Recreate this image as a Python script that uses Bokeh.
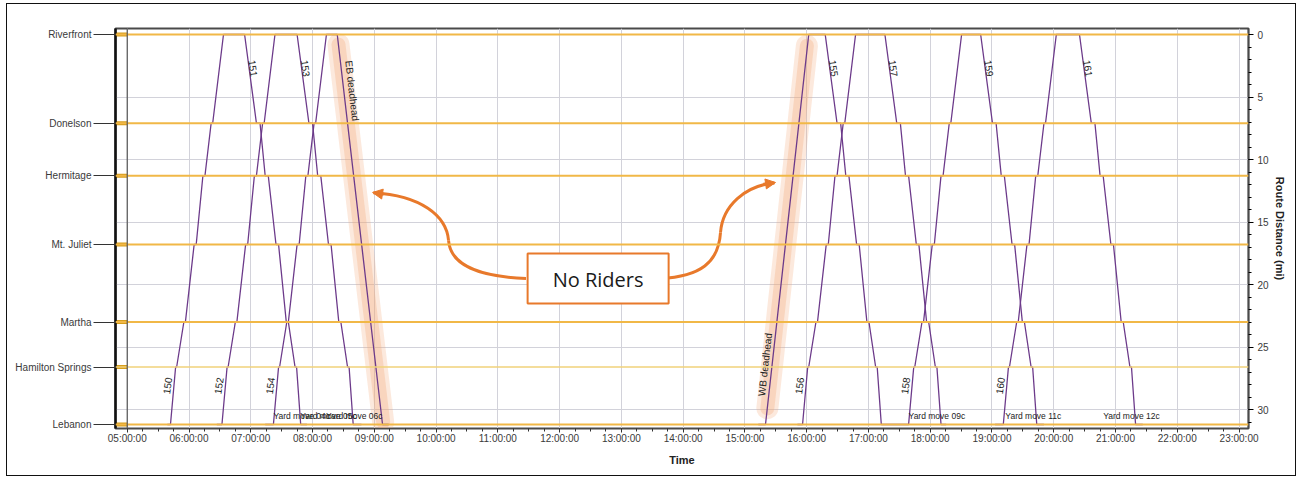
from bokeh.plotting import figure
from bokeh.models import (Range1d, LinearAxis, FixedTicker, CustomJSTickFormatter,
                          Arrow, NormalHead, Span)
from bokeh.core.properties import value
from bokeh.embed import file_html
from bokeh.resources import INLINE

# ---------------- data ----------------
stations = ["Riverfront", "Donelson", "Hermitage", "Mt. Juliet", "Martha", "Hamilton Springs", "Lebanon"]
station_mi = [0.0, 7.1, 11.3, 16.8, 23.0, 26.6, 31.2]

# running-time profile (minutes after origin departure): arrive / depart at each station
# eastbound: Riverfront -> Lebanon (station order above)
eb_arr = [0, 11.5, 20.0, 30.5, 40.5, 49.0, 54.5]
eb_dep = [0, 15.0, 23.0, 33.0, 42.5, 50.5, 54.5]
# westbound: Lebanon -> Riverfront (reverse station order)
wb_arr = [0, 5.0, 13.0, 23.0, 31.5, 39.5, 51.5]
wb_dep = [0, 6.0, 14.5, 25.0, 33.5, 41.0, 51.5]

trip_ids = ["150", "151", "152", "153", "154", "EB deadhead",
            "WB deadhead", "155", "156", "157", "158", "159", "160", "161"]
trip_dir = ["W", "E", "W", "E", "W", "E", "W", "E", "W", "E", "W", "E", "W", "E"]
trip_dep = ["05:42", "06:54", "06:32", "07:45", "07:22", "08:24",
            "15:20", "16:18", "15:56", "17:16", "17:39", "18:49", "19:11", "20:25"]
trip_nonstop_run = {"EB deadhead": 44, "WB deadhead": 42}

# equipment cycles (trips run by the same train set) and terminal holds (min)
blocks = [["150", "151"], ["152", "153"], ["154", "EB deadhead"],
          ["WB deadhead", "155", "158", "159"], ["156", "157"], ["160", "161"]]
block_hold_before = [3, 5, 8, 7, 5, 8]
block_hold_after = [6, 8, 6, 7, 5, 7]

yard_text = ["Yard move 04c", "Yard move 05c", "Yard move 06c",
             "Yard move 09c", "Yard move 11c", "Yard move 12c"]
yard_time = ["07:22", "07:48", "08:13", "17:39", "19:13", "20:48"]

hours = list(range(5, 24))
dist_ticks = [0, 5, 10, 15, 20, 25, 30]


def hrs(s):
    h, m = s.split(":")
    return int(h) + int(m) / 60.0


def trip_points(tid):
    i = trip_ids.index(tid)
    t0 = hrs(trip_dep[i])
    d = trip_dir[i]
    if tid in trip_nonstop_run:
        run = trip_nonstop_run[tid] / 60.0
        if d == "E":
            return [(t0, station_mi[0]), (t0 + run, station_mi[-1])]
        return [(t0, station_mi[-1]), (t0 + run, station_mi[0])]
    pts = []
    if d == "E":
        for k, mi in enumerate(station_mi):
            pts.append((t0 + eb_arr[k] / 60.0, mi))
            pts.append((t0 + eb_dep[k] / 60.0, mi))
    else:
        for k, mi in enumerate(station_mi[::-1]):
            pts.append((t0 + wb_arr[k] / 60.0, mi))
            pts.append((t0 + wb_dep[k] / 60.0, mi))
    return pts


xs, ys = [], []
for b, pre, post in zip(blocks, block_hold_before, block_hold_after):
    pts = []
    for tid in b:
        pts += trip_points(tid)
    pts = [(pts[0][0] - pre / 60.0, pts[0][1])] + pts + [(pts[-1][0] + post / 60.0, pts[-1][1])]
    xs.append([p[0] for p in pts])
    ys.append([p[1] for p in pts])

# ---------------- figure ----------------
p = figure(width=1290, height=473, output_backend="svg", toolbar_location=None,
           x_range=Range1d(4.81, 23.153), y_range=Range1d(31.52, -0.48),
           min_border_left=108, min_border_right=49, min_border_top=24, min_border_bottom=49)
p.styles = {"border": "1px solid #111", "margin-left": "6px", "margin-top": "3px"}
p.background_fill_color = "white"
p.border_fill_color = "white"
p.outline_line_color = "#4a4a4a"
p.outline_line_width = 2

FONT = "Liberation Sans"

# x axis (time)
xa = p.xaxis[0]
xa.ticker = FixedTicker(ticks=hours, minor_ticks=[5 + k * 0.25 for k in range(0, 73)])
xa.formatter = CustomJSTickFormatter(code="""
    const h = Math.round(tick);
    return (h < 10 ? "0" : "") + h + ":00:00";""")
xa.axis_label = "Time"
xa.axis_label_text_font = FONT
xa.axis_label_text_font_style = "bold"
xa.axis_label_text_font_size = "11px"
xa.axis_label_text_color = "#222"
xa.axis_label_standoff = 7
xa.major_label_text_font = FONT
xa.major_label_text_font_size = "10px"
xa.major_label_text_color = "#3a3a3a"
xa.major_label_standoff = 0
xa.major_tick_in = 0
xa.major_tick_out = 4
xa.minor_tick_in = 0
xa.minor_tick_out = 3
xa.axis_line_color = "#4a4a4a"
xa.major_tick_line_color = "#333"
xa.minor_tick_line_color = "#333"

# left axis (stations)
ya = p.yaxis[0]
ya.ticker = FixedTicker(ticks=station_mi, minor_ticks=[])
ya.formatter = CustomJSTickFormatter(args=dict(names=stations, vals=station_mi), code="""
    for (let i = 0; i < vals.length; i++) {
        if (Math.abs(vals[i] - tick) < 1e-6) return names[i];
    }
    return "";""")
ya.major_label_text_font = FONT
ya.major_label_text_font_size = "10px"
ya.major_label_text_color = "#3a3a3a"
ya.major_tick_in = 0
ya.major_tick_out = 22
ya.major_label_standoff = 2
ya.minor_tick_out = 0
ya.axis_line_color = "#111"
ya.axis_line_width = 2.5
ya.major_tick_line_color = "#333"

# right axis (route distance)
ra = LinearAxis(ticker=FixedTicker(ticks=dist_ticks, minor_ticks=list(range(0, 32))),
                axis_label="Route Distance (mi)")
ra.axis_label_text_font = FONT
ra.axis_label_text_font_style = "bold"
ra.axis_label_text_font_size = "11px"
ra.axis_label_text_color = "#222"
ra.axis_label_standoff = 2
ra.major_label_text_font = FONT
ra.major_label_text_font_size = "10px"
ra.major_label_text_color = "#3a3a3a"
ra.major_label_standoff = 4
ra.major_tick_in = 0
ra.major_tick_out = 5
ra.minor_tick_in = 0
ra.minor_tick_out = 3
ra.axis_line_color = "#4a4a4a"
ra.axis_line_width = 1.5
p.add_layout(ra, "right")

p.xgrid.ticker = FixedTicker(ticks=hours)
p.ygrid.ticker = FixedTicker(ticks=dist_ticks)
p.xgrid.grid_line_color = "#d2d2da"
p.ygrid.grid_line_color = "#d2d2da"

# station lines
for name, mi in zip(stations, station_mi):
    if name == "Hamilton Springs":
        p.add_layout(Span(location=mi, dimension="width", line_color="#f1d27a", line_width=1.3))
    else:
        p.add_layout(Span(location=mi, dimension="width", line_color="#f1b847", line_width=1.8))

# start-of-day frame line and station markers on the axis band
p.add_layout(Span(location=5, dimension="height", line_color="#555", line_width=1.2))
p.rect(x=[(4.81 + 5) / 2] * len(station_mi), y=station_mi, width=0.19, height=4,
       height_units="screen", fill_color="#d69d1c", line_color=None)

# highlight of the no-rider deadhead moves
HL = "#f2a878"
i_eb = trip_ids.index("EB deadhead")
t_eb = hrs(trip_dep[i_eb])
r_eb = trip_nonstop_run["EB deadhead"] / 60.0
i_wb = trip_ids.index("WB deadhead")
t_wb = hrs(trip_dep[i_wb])
r_wb = trip_nonstop_run["WB deadhead"] / 60.0
for w, a in [(22, 0.25), (14, 0.3)]:
    p.line([t_eb + 0.02, t_eb + r_eb + 0.01], [0.8, 31.0], line_color=HL,
           line_width=w, line_alpha=a, line_cap="round")
    p.line([t_wb + 0.03, t_wb + r_wb - 0.03], [29.9, 0.9], line_color=HL,
           line_width=w, line_alpha=a, line_cap="round")

# train lines
p.multi_line(xs, ys, line_color="#6c3a8a", line_width=1.3)

# train labels
lx, ly, lt, la = [], [], [], []
for tid, d, dep in zip(trip_ids, trip_dir, trip_dep):
    t0 = hrs(dep)
    if tid == "EB deadhead":
        lx.append(t0 + 14.5 / 60); ly.append(4.5); la.append(-83.4)
    elif tid == "WB deadhead":
        lx.append(t0 - 0.5 / 60); ly.append(26.4); la.append(83.6)
    elif d == "E":
        lx.append(t0 + 8.5 / 60); ly.append(2.7); la.append(-82)
    else:
        lx.append(t0 - 3.3 / 60); ly.append(28.1); la.append(82)
    lt.append(tid)
p.text(x=lx, y=ly, text=lt, angle=la, angle_units="deg", text_align="center",
       text_baseline="middle", text_font=value(FONT), text_font_size="10px",
       text_color="#222")

# yard moves
p.text(x=[hrs(t) for t in yard_time], y=[station_mi[-1]] * len(yard_time), text=yard_text,
       y_offset=-4, text_align="left", text_baseline="bottom", text_font=value(FONT),
       text_font_size="8.5px", text_color="#222")

# "No Riders" callout
OR = "#e8792b"
p.bezier(x0=[11.456, 10.202, 13.633, 14.605], y0=[19.52, 16.48, 19.52, 15.84],
         x1=[10.202, 8.985, 14.605, 15.478], y1=[16.48, 12.66, 15.84, 11.88],
         cx0=[10.687, 10.169, 14.281, 14.637], cy0=[19.36, 14.48, 19.36, 13.68],
         cx1=[10.234, 9.748, 14.573, 15.009], cy1=[18.48, 12.88, 18.24, 12.08],
         line_color=OR, line_width=3)
p.add_layout(Arrow(end=NormalHead(size=10, fill_color=OR, line_color=OR),
                   x_start=9.15, y_start=12.78, x_end=8.972, y_end=12.64,
                   line_color=OR, line_width=3))
p.add_layout(Arrow(end=NormalHead(size=10, fill_color=OR, line_color=OR),
                   x_start=15.30, y_start=11.98, x_end=15.496, y_end=11.84,
                   line_color=OR, line_width=3))
p.quad(left=[11.482], right=[13.765], top=[17.52], bottom=[21.52],
       fill_color="white", line_color=OR, line_width=2)
p.text(x=[12.623], y=[19.6], text=["No Riders"], text_align="center", text_baseline="middle",
       text_font=value("Open Sans"), text_font_size="20px", text_color="#1a1a1a")

open("out.html", "w").write(file_html(p, INLINE))
